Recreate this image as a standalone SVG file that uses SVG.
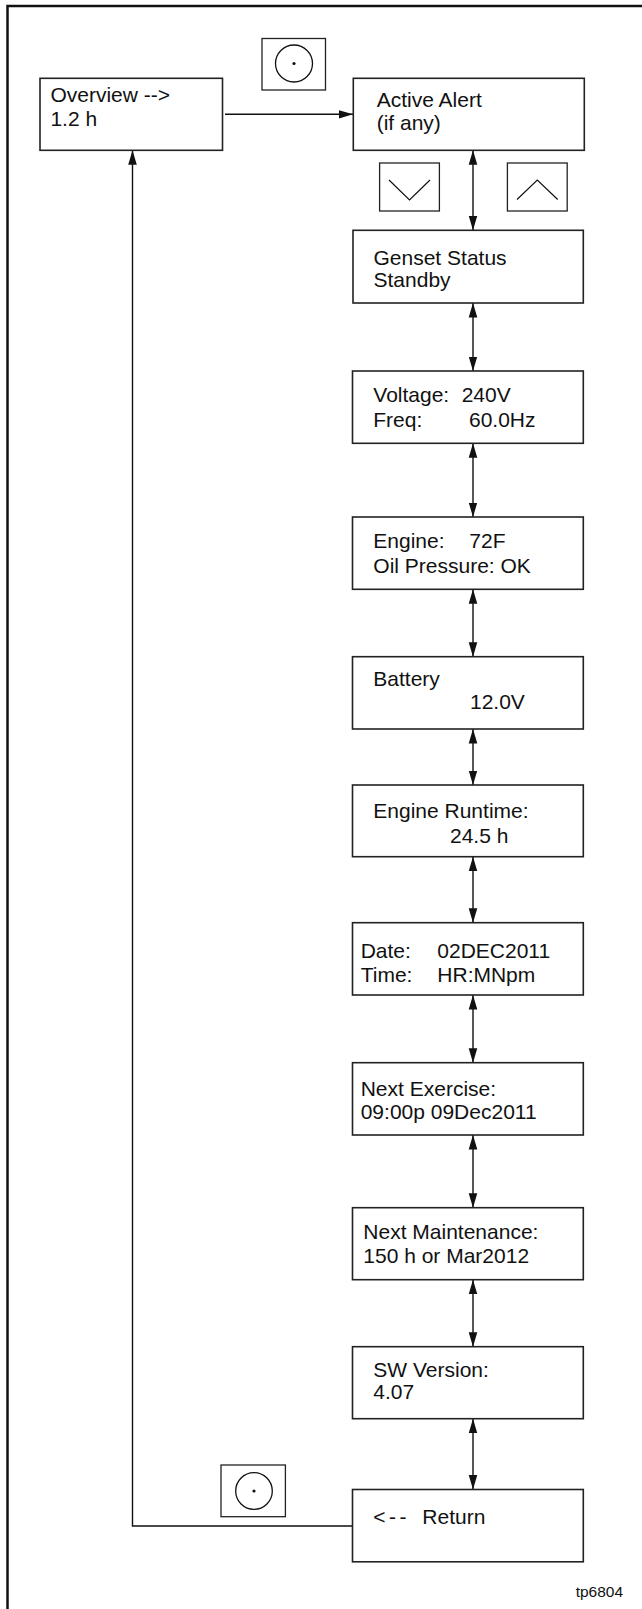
<svg xmlns="http://www.w3.org/2000/svg" width="642" height="1609" viewBox="0 0 642 1609">
<style>
.box{fill:#fff;stroke:#222;stroke-width:1.6}
.btn{fill:#fff;stroke:#222;stroke-width:1.3}
.t{font-family:"Liberation Sans",Arial,sans-serif;font-size:21px;fill:#111}
.c{fill:none;stroke:#111;stroke-width:1.4}
.ca{fill:none;stroke:#111;stroke-width:1.4;marker-start:url(#ah);marker-end:url(#ah)}
</style>
<defs>
<marker id="ah" markerUnits="userSpaceOnUse" markerWidth="15" markerHeight="10" refX="14.5" refY="5" orient="auto-start-reverse">
<path d="M0,0.7 L14.5,5 L0,9.3 z" fill="#111"/>
</marker>
</defs>
<rect width="642" height="1609" fill="#fff"/>
<path d="M7.5,1609 V6 H642" fill="none" stroke="#111" stroke-width="2.5"/>

<g id="connectors">
<line class="c" x1="225" y1="114.3" x2="353" y2="114.3" marker-end="url(#ah)"/>
<line class="ca" x1="473" y1="150.3" x2="473" y2="230.3"/>
<line class="ca" x1="473" y1="303" x2="473" y2="371"/>
<line class="ca" x1="473" y1="443.3" x2="473" y2="517"/>
<line class="ca" x1="473" y1="589.3" x2="473" y2="656.7"/>
<line class="ca" x1="473" y1="729" x2="473" y2="785"/>
<line class="ca" x1="473" y1="856.7" x2="473" y2="922.7"/>
<line class="ca" x1="473" y1="995" x2="473" y2="1062.7"/>
<line class="ca" x1="473" y1="1135" x2="473" y2="1207.7"/>
<line class="ca" x1="473" y1="1279.7" x2="473" y2="1346.7"/>
<line class="ca" x1="473" y1="1418.7" x2="473" y2="1489.5"/>
<path class="c" d="M353,1526 H132.5 V150.3" marker-end="url(#ah)"/>
</g>

<g id="btn-select-top">
<rect class="btn" x="262" y="38.5" width="63.5" height="51.5"/>
<circle cx="294" cy="63.5" r="18.5" fill="none" stroke="#111" stroke-width="1.3"/>
<circle cx="294" cy="63.5" r="1.6" fill="#111"/>
</g>
<g id="btn-down">
<rect class="btn" x="379.6" y="163" width="59.8" height="48"/>
<polyline points="389,180 409.5,200 430,180" fill="none" stroke="#111" stroke-width="1.2"/>
</g>
<g id="btn-up">
<rect class="btn" x="507.4" y="163" width="59.8" height="48"/>
<polyline points="517,199.5 537.3,180 557.7,199.5" fill="none" stroke="#111" stroke-width="1.2"/>
</g>
<g id="btn-select-bottom">
<rect class="btn" x="221" y="1465" width="64.4" height="51.7"/>
<circle cx="254" cy="1491" r="18.3" fill="none" stroke="#111" stroke-width="1.3"/>
<circle cx="254" cy="1491" r="1.6" fill="#111"/>
</g>

<g id="overview">
<rect class="box" x="40" y="78.3" width="182.5" height="72"/>
<text class="t" x="50.4" y="101.7">Overview --&gt;</text>
<text class="t" x="50.4" y="126">1.2 h</text>
</g>
<g id="active-alert">
<rect class="box" x="353.3" y="78.3" width="231" height="72"/>
<text class="t" x="376.7" y="106.7">Active Alert</text>
<text class="t" x="376.7" y="130">(if any)</text>
</g>
<g id="genset-status">
<rect class="box" x="353" y="230.3" width="230.3" height="72.7"/>
<text class="t" x="373.5" y="265">Genset Status</text>
<text class="t" x="373.5" y="287.3">Standby</text>
</g>
<g id="voltage">
<rect class="box" x="352.5" y="371" width="230.8" height="72.3"/>
<text class="t" x="373.3" y="402.3">Voltage:</text>
<text class="t" x="461.7" y="402.3">240V</text>
<text class="t" x="373.3" y="426.7">Freq:</text>
<text class="t" x="469" y="426.7">60.0Hz</text>
</g>
<g id="engine">
<rect class="box" x="352.5" y="517" width="230.8" height="72.3"/>
<text class="t" x="373.3" y="548.3">Engine:</text>
<text class="t" x="469.3" y="548.3">72F</text>
<text class="t" x="373.3" y="572.7">Oil Pressure: OK</text>
</g>
<g id="battery">
<rect class="box" x="352.5" y="656.7" width="230.8" height="72.3"/>
<text class="t" x="373.3" y="686">Battery</text>
<text class="t" x="470" y="709.3">12.0V</text>
</g>
<g id="engine-runtime">
<rect class="box" x="352.5" y="785" width="230.8" height="71.7"/>
<text class="t" x="373.3" y="818.3">Engine Runtime:</text>
<text class="t" x="450" y="842.7">24.5 h</text>
</g>
<g id="date-time">
<rect class="box" x="352.5" y="922.7" width="230.8" height="72.3"/>
<text class="t" x="360.7" y="957.7">Date:</text>
<text class="t" x="437.3" y="957.7">02DEC2011</text>
<text class="t" x="360.7" y="981.7">Time:</text>
<text class="t" x="437.3" y="981.7">HR:MNpm</text>
</g>
<g id="next-exercise">
<rect class="box" x="352.5" y="1062.7" width="230.8" height="72.3"/>
<text class="t" x="360.7" y="1096">Next Exercise:</text>
<text class="t" x="360.7" y="1119.3">09:00p 09Dec2011</text>
</g>
<g id="next-maintenance">
<rect class="box" x="352.5" y="1207.7" width="230.8" height="72"/>
<text class="t" x="363.3" y="1239">Next Maintenance:</text>
<text class="t" x="363.3" y="1262.7">150 h or Mar2012</text>
</g>
<g id="sw-version">
<rect class="box" x="352.5" y="1346.7" width="230.8" height="72"/>
<text class="t" x="373.3" y="1376.7">SW Version:</text>
<text class="t" x="373.3" y="1399.3">4.07</text>
</g>
<g id="return">
<rect class="box" x="352.5" y="1489.5" width="230.8" height="72.3"/>
<text class="t" x="373.3" y="1524.3" letter-spacing="3.5">&lt;--</text>
<text class="t" x="422.3" y="1524.3">Return</text>
</g>
<text x="575.7" y="1596.7" style="font-family:'Liberation Sans',Arial,sans-serif;font-size:15.5px;fill:#111">tp6804</text>
</svg>
